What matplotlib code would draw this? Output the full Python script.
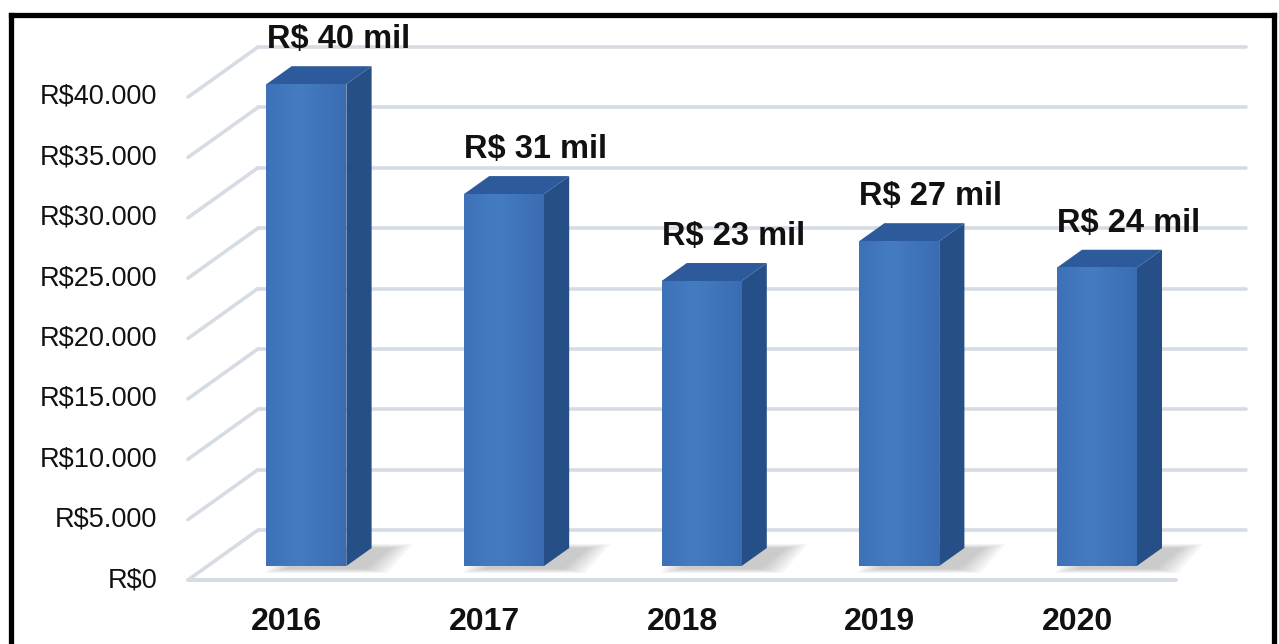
import numpy as np
import matplotlib.pyplot as plt
from matplotlib.patches import Polygon
from matplotlib.lines import Line2D

plt.rcParams["font.family"] = ["Liberation Sans", "DejaVu Sans"]

# dados
years = ["2016", "2017", "2018", "2019", "2020"]
values = [39900, 30800, 23600, 26900, 24700]
value_labels = ["R$ 40 mil", "R$ 31 mil", "R$ 23 mil", "R$ 27 mil", "R$ 24 mil"]
yticks = [0, 5000, 10000, 15000, 20000, 25000, 30000, 35000, 40000]
ytick_labels = ["R$0", "R$5.000", "R$10.000", "R$15.000", "R$20.000",
                "R$25.000", "R$30.000", "R$35.000", "R$40.000"]

W, H = 1279, 644
PX_CAT = 197.6            # px por categoria
PX_VAL = 483 / 40000      # px por unidade de valor
DX = 70 / PX_CAT          # profundidade (x) em unidades de categoria
DY = 50 / PX_VAL          # profundidade (y) em unidades de valor

BAR_W = 80 / PX_CAT
D0, D1 = 0.28, 0.64       # profundidade da barra

GRID = "#d6dce4"
FRONT_L = np.array([58, 106, 176]) / 255
FRONT_M = np.array([68, 124, 194]) / 255
SIDE = "#274f87"
TOP = "#2d5a9a"

fig = plt.figure(figsize=(W / 100, H / 100), dpi=100)
ax = fig.add_axes([0, 0, 1, 1])
x_lo = -0.5 - 188 / PX_CAT
x_hi = -0.5 + (W - 188) / PX_CAT
y_lo = (580 - H) / PX_VAL
y_hi = 580 / PX_VAL
ax.axis("off")

# grade: parede do fundo e parede esquerda
for v in yticks:
    ax.plot([-0.5 + DX, 4.5 + DX], [v + DY, v + DY], color=GRID, lw=2.6,
            solid_capstyle="round", zorder=1)
    ax.plot([-0.5, -0.5 + DX], [v, v + DY], color=GRID, lw=2.6,
            solid_capstyle="round", zorder=1)
# borda frontal do piso
ax.plot([-0.5, 4.5], [0, 0], color=GRID, lw=2.8, solid_capstyle="round", zorder=1)

# rótulos do eixo y
for v, lab in zip(yticks, ytick_labels):
    ax.text(-0.5 - 31 / PX_CAT, v, lab, ha="right", va="center",
            fontsize=19.5, color="#111111")

# gradiente horizontal suave da face frontal
t = np.linspace(0, 1, 64)
wgt = np.clip(1 - np.abs(t - 0.4) / 0.7, 0, 1)
grad = FRONT_L[None, :] * (1 - wgt[:, None]) + FRONT_M[None, :] * wgt[:, None]
grad = grad[None, :, :]

for i, (v, lab) in enumerate(zip(values, value_labels)):
    x0 = i - BAR_W / 2 + D0 * DX
    x1 = x0 + BAR_W
    yb = D0 * DY
    yt = v + D0 * DY
    ddx = (D1 - D0) * DX
    ddy = (D1 - D0) * DY

    # sombra difusa no piso
    for k in range(7):
        e = k * 0.018
        sx = 0.10
        shadow = Polygon([(x0 + sx - e, yb - 250 - e * 3000),
                          (x1 + sx + e, yb - 250 - e * 3000),
                          (x1 + ddx + sx + e, yb + ddy + e * 3000),
                          (x0 + ddx + sx - e, yb + ddy + e * 3000)],
                         closed=True, facecolor="#707070", edgecolor="none",
                         alpha=0.06, zorder=2)
        ax.add_patch(shadow)

    # face frontal
    ax.imshow(grad, extent=[x0, x1, yb, yt], aspect="auto",
              interpolation="bilinear", zorder=4)
    # face lateral
    ax.add_patch(Polygon([(x1, yb), (x1, yt), (x1 + ddx, yt + ddy), (x1 + ddx, yb + ddy)],
                         closed=True, facecolor=SIDE, edgecolor="none", zorder=3))
    # topo
    ax.add_patch(Polygon([(x0, yt), (x1, yt), (x1 + ddx, yt + ddy), (x0 + ddx, yt + ddy)],
                         closed=True, facecolor=TOP, edgecolor="none", zorder=3))

    # rótulo de valor
    ax.text(i + 0.26, v + DY, lab, ha="center", va="baseline",
            fontsize=23.5, fontweight="bold", color="#111111", zorder=6)

# anos
for i, y in enumerate(years):
    ax.text(i, -42 / PX_VAL, y, ha="center", va="center",
            fontsize=23, fontweight="bold", color="#111111")

ax.set_xlim(x_lo, x_hi)
ax.set_ylim(y_lo, y_hi)

# moldura preta
fig.add_artist(Line2D([10.5 / W, 1273.5 / W], [1 - 14.5 / H, 1 - 14.5 / H],
                      color="black", lw=3.8, solid_capstyle="projecting"))
fig.add_artist(Line2D([10.5 / W, 10.5 / W], [1 - 14.5 / H, -0.05],
                      color="black", lw=3.8))
fig.add_artist(Line2D([1273.5 / W, 1273.5 / W], [1 - 14.5 / H, -0.05],
                      color="black", lw=3.8))

fig.savefig("out.png", dpi=100, facecolor="white")
